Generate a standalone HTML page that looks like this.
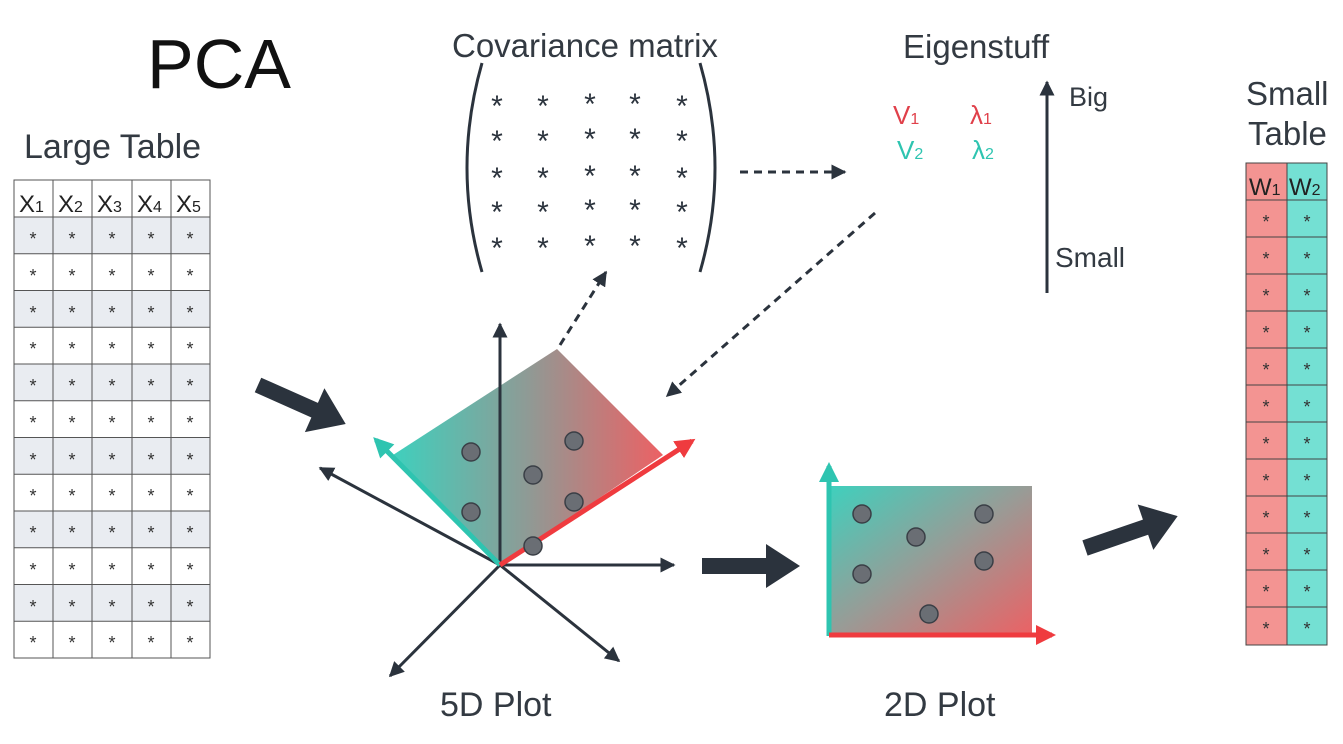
<!DOCTYPE html>
<html><head><meta charset="utf-8"><style>
html,body{margin:0;padding:0;background:#fff;}
svg{display:block;font-family:"Liberation Sans",Arial,sans-serif;}
</style></head><body>
<svg width="1343" height="744" viewBox="0 0 1343 744" xmlns="http://www.w3.org/2000/svg">
<defs>
<marker id="ah" viewBox="0 0 10 10" refX="9" refY="5" markerWidth="5" markerHeight="5" orient="auto"><path d="M0,0 L10,5 L0,10 z" fill="#2b333d"/></marker>
<marker id="aht" viewBox="0 0 10 10" refX="8" refY="5" markerWidth="4" markerHeight="4" orient="auto"><path d="M0,0 L10,5 L0,10 z" fill="#2ec4b0"/></marker>
<marker id="ahr" viewBox="0 0 10 10" refX="8" refY="5" markerWidth="4" markerHeight="4" orient="auto"><path d="M0,0 L10,5 L0,10 z" fill="#ef3b3f"/></marker>
<linearGradient id="g1" x1="0" y1="0" x2="1" y2="0"><stop offset="0" stop-color="#3fd0bd"/><stop offset="0.5" stop-color="#8f9a95"/><stop offset="1" stop-color="#ec6164"/></linearGradient>
<linearGradient id="g2" x1="0" y1="0" x2="1" y2="1"><stop offset="0" stop-color="#3fd0bd"/><stop offset="0.5" stop-color="#999b96"/><stop offset="1" stop-color="#ec6164"/></linearGradient>
</defs>

<text x="147" y="88" font-size="70" fill="#111">PCA</text>
<text x="24" y="158" font-size="34" fill="#333a42">Large Table</text>
<text x="452" y="57" font-size="33" fill="#333a42">Covariance matrix</text>
<text x="903" y="58" font-size="33" fill="#333a42">Eigenstuff</text>
<text x="1069" y="106" font-size="27" fill="#333a42">Big</text>
<text x="1055" y="267" font-size="28" fill="#333a42">Small</text>
<text x="1246" y="105" font-size="33" fill="#333a42">Small</text>
<text x="1248" y="145" font-size="33" fill="#333a42">Table</text>
<text x="440" y="716" font-size="34" fill="#333a42">5D Plot</text>
<text x="884" y="716" font-size="34" fill="#333a42">2D Plot</text>

<g font-size="26">
<text x="893" y="124" fill="#e0404a">V<tspan font-size="16">1</tspan></text>
<text x="970" y="124" fill="#e0404a">λ<tspan font-size="16">1</tspan></text>
<text x="897" y="159" fill="#2ec4b0">V<tspan font-size="16">2</tspan></text>
<text x="972" y="159" fill="#2ec4b0">λ<tspan font-size="16">2</tspan></text>
</g>
<line x1="1047" y1="293" x2="1047" y2="82" stroke="#2b333d" stroke-width="3" marker-end="url(#ah)"/>

<!-- large table -->
<rect x="14" y="182" width="196" height="35" fill="#fff"/>
<g fill="#e9ecf1">
<rect x="14" y="217" width="196" height="36.75"/>
<rect x="14" y="290.5" width="196" height="36.75"/>
<rect x="14" y="364" width="196" height="36.75"/>
<rect x="14" y="437.5" width="196" height="36.75"/>
<rect x="14" y="511" width="196" height="36.75"/>
<rect x="14" y="584.5" width="196" height="36.75"/>
</g>
<g stroke="#555" stroke-width="1" fill="none">
<rect x="14" y="180" width="196" height="478"/>
<line x1="53" y1="180" x2="53" y2="658"/><line x1="92" y1="180" x2="92" y2="658"/><line x1="132" y1="180" x2="132" y2="658"/><line x1="171" y1="180" x2="171" y2="658"/>
<line x1="14" y1="217" x2="210" y2="217"/>
<line x1="14" y1="253.75" x2="210" y2="253.75"/><line x1="14" y1="290.5" x2="210" y2="290.5"/><line x1="14" y1="327.25" x2="210" y2="327.25"/><line x1="14" y1="364" x2="210" y2="364"/><line x1="14" y1="400.75" x2="210" y2="400.75"/><line x1="14" y1="437.5" x2="210" y2="437.5"/><line x1="14" y1="474.25" x2="210" y2="474.25"/><line x1="14" y1="511" x2="210" y2="511"/><line x1="14" y1="547.75" x2="210" y2="547.75"/><line x1="14" y1="584.5" x2="210" y2="584.5"/><line x1="14" y1="621.25" x2="210" y2="621.25"/>
</g>
<g font-size="24" fill="#222"><text x="19" y="212">X<tspan font-size="16">1</tspan></text><text x="58" y="212">X<tspan font-size="16">2</tspan></text><text x="97" y="212">X<tspan font-size="16">3</tspan></text><text x="137" y="212">X<tspan font-size="16">4</tspan></text><text x="176" y="212">X<tspan font-size="16">5</tspan></text></g>

<!-- small table -->
<rect x="1246" y="163" width="41" height="482" fill="#f39492"/>
<rect x="1287" y="163" width="40" height="482" fill="#74e0d3"/>
<g stroke="#444" stroke-width="1" fill="none">
<rect x="1246" y="163" width="81" height="482"/>
<line x1="1287" y1="163" x2="1287" y2="645"/>
<line x1="1246" y1="200" x2="1327" y2="200"/>
<line x1="1246" y1="237" x2="1327" y2="237"/><line x1="1246" y1="274" x2="1327" y2="274"/><line x1="1246" y1="311" x2="1327" y2="311"/><line x1="1246" y1="348" x2="1327" y2="348"/><line x1="1246" y1="385" x2="1327" y2="385"/><line x1="1246" y1="422" x2="1327" y2="422"/><line x1="1246" y1="459" x2="1327" y2="459"/><line x1="1246" y1="496" x2="1327" y2="496"/><line x1="1246" y1="533" x2="1327" y2="533"/><line x1="1246" y1="570" x2="1327" y2="570"/><line x1="1246" y1="607" x2="1327" y2="607"/>
</g>
<g font-size="24" fill="#222"><text x="1249" y="195">W<tspan font-size="16">1</tspan></text><text x="1289" y="195">W<tspan font-size="16">2</tspan></text></g>

<!-- matrix -->
<path d="M482,63 Q452,168 482,272" stroke="#2b333d" stroke-width="3" fill="none"/>
<path d="M700,63 Q730,168 700,272" stroke="#2b333d" stroke-width="3" fill="none"/>

<!-- dashed arrows -->
<g stroke="#2b333d" stroke-width="3" stroke-dasharray="8,6" fill="none">
<line x1="740" y1="172" x2="845" y2="172" marker-end="url(#ah)"/>
<line x1="875" y1="213" x2="667" y2="396" marker-end="url(#ah)"/>
<line x1="560" y1="345" x2="606" y2="272" marker-end="url(#ah)"/>
</g>

<!-- 5D plot -->
<polygon points="500,565 393,455 557,349 663,455" fill="url(#g1)"/>
<g stroke="#2b333d" stroke-width="3" fill="none">
<line x1="500" y1="565" x2="500" y2="324" marker-end="url(#ah)"/>
<line x1="500" y1="565" x2="320" y2="468" marker-end="url(#ah)"/>
<line x1="500" y1="565" x2="674" y2="565" marker-end="url(#ah)"/>
<line x1="500" y1="565" x2="390" y2="676" marker-end="url(#ah)"/>
<line x1="500" y1="565" x2="619" y2="661" marker-end="url(#ah)"/>
</g>
<line x1="500" y1="565" x2="376" y2="440" stroke="#2ec4b0" stroke-width="5" marker-end="url(#aht)"/>
<line x1="500" y1="565" x2="692" y2="441" stroke="#ef3b3f" stroke-width="5" marker-end="url(#ahr)"/>
<g fill="#6a6e74" stroke="#3a3f46" stroke-width="1.5">
<circle cx="471" cy="452" r="9"/><circle cx="471" cy="512" r="9"/><circle cx="533" cy="475" r="9"/><circle cx="574" cy="441" r="9"/><circle cx="574" cy="502" r="9"/><circle cx="533" cy="546" r="9"/>
</g>

<!-- 2D plot -->
<rect x="830" y="486" width="202" height="150" fill="url(#g2)"/>
<line x1="829" y1="636" x2="829" y2="466" stroke="#2ec4b0" stroke-width="5" marker-end="url(#aht)"/>
<line x1="829" y1="635" x2="1052" y2="635" stroke="#ef3b3f" stroke-width="5" marker-end="url(#ahr)"/>
<g fill="#6a6e74" stroke="#3a3f46" stroke-width="1.5">
<circle cx="862" cy="514" r="9"/><circle cx="916" cy="537" r="9"/><circle cx="984" cy="514" r="9"/><circle cx="862" cy="574" r="9"/><circle cx="984" cy="561" r="9"/><circle cx="929" cy="614" r="9"/>
</g>

<!-- thick arrows -->
<g fill="#2b333d">
<polygon transform="translate(258,385) rotate(24)" points="0,-8 62,-8 62,-24 96,0 62,24 62,8 0,8"/>
<polygon transform="translate(702,566)" points="0,-8 64,-8 64,-22 98,0 64,22 64,8 0,8"/>
<polygon transform="translate(1085,548) rotate(-19)" points="0,-8 64,-8 64,-24 98,0 64,24 64,8 0,8"/>
</g>

<!-- stars text -->
<g font-size="18" fill="#333" text-anchor="middle">
<text x="33" y="245">*</text><text x="72" y="245">*</text><text x="112" y="245">*</text><text x="151" y="245">*</text><text x="190" y="245">*</text>
<text x="33" y="282">*</text><text x="72" y="282">*</text><text x="112" y="282">*</text><text x="151" y="282">*</text><text x="190" y="282">*</text>
<text x="33" y="319">*</text><text x="72" y="319">*</text><text x="112" y="319">*</text><text x="151" y="319">*</text><text x="190" y="319">*</text>
<text x="33" y="355">*</text><text x="72" y="355">*</text><text x="112" y="355">*</text><text x="151" y="355">*</text><text x="190" y="355">*</text>
<text x="33" y="392">*</text><text x="72" y="392">*</text><text x="112" y="392">*</text><text x="151" y="392">*</text><text x="190" y="392">*</text>
<text x="33" y="429">*</text><text x="72" y="429">*</text><text x="112" y="429">*</text><text x="151" y="429">*</text><text x="190" y="429">*</text>
<text x="33" y="466">*</text><text x="72" y="466">*</text><text x="112" y="466">*</text><text x="151" y="466">*</text><text x="190" y="466">*</text>
<text x="33" y="502">*</text><text x="72" y="502">*</text><text x="112" y="502">*</text><text x="151" y="502">*</text><text x="190" y="502">*</text>
<text x="33" y="539">*</text><text x="72" y="539">*</text><text x="112" y="539">*</text><text x="151" y="539">*</text><text x="190" y="539">*</text>
<text x="33" y="576">*</text><text x="72" y="576">*</text><text x="112" y="576">*</text><text x="151" y="576">*</text><text x="190" y="576">*</text>
<text x="33" y="613">*</text><text x="72" y="613">*</text><text x="112" y="613">*</text><text x="151" y="613">*</text><text x="190" y="613">*</text>
<text x="33" y="649">*</text><text x="72" y="649">*</text><text x="112" y="649">*</text><text x="151" y="649">*</text><text x="190" y="649">*</text>
<text x="1266" y="228">*</text><text x="1307" y="228">*</text>
<text x="1266" y="265">*</text><text x="1307" y="265">*</text>
<text x="1266" y="302">*</text><text x="1307" y="302">*</text>
<text x="1266" y="339">*</text><text x="1307" y="339">*</text>
<text x="1266" y="376">*</text><text x="1307" y="376">*</text>
<text x="1266" y="413">*</text><text x="1307" y="413">*</text>
<text x="1266" y="450">*</text><text x="1307" y="450">*</text>
<text x="1266" y="487">*</text><text x="1307" y="487">*</text>
<text x="1266" y="524">*</text><text x="1307" y="524">*</text>
<text x="1266" y="561">*</text><text x="1307" y="561">*</text>
<text x="1266" y="598">*</text><text x="1307" y="598">*</text>
<text x="1266" y="635">*</text><text x="1307" y="635">*</text>
</g>
<g font-size="30" fill="#2b333d" text-anchor="middle">
<text x="497" y="116">*</text><text x="543" y="116">*</text><text x="590" y="114">*</text><text x="635" y="114">*</text><text x="682" y="116">*</text>
<text x="497" y="151">*</text><text x="543" y="151">*</text><text x="590" y="149">*</text><text x="635" y="149">*</text><text x="682" y="151">*</text>
<text x="497" y="188">*</text><text x="543" y="188">*</text><text x="590" y="186">*</text><text x="635" y="186">*</text><text x="682" y="188">*</text>
<text x="497" y="222">*</text><text x="543" y="222">*</text><text x="590" y="220">*</text><text x="635" y="220">*</text><text x="682" y="222">*</text>
<text x="497" y="258">*</text><text x="543" y="258">*</text><text x="590" y="256">*</text><text x="635" y="256">*</text><text x="682" y="258">*</text>
</g>
</svg>
</body></html>
